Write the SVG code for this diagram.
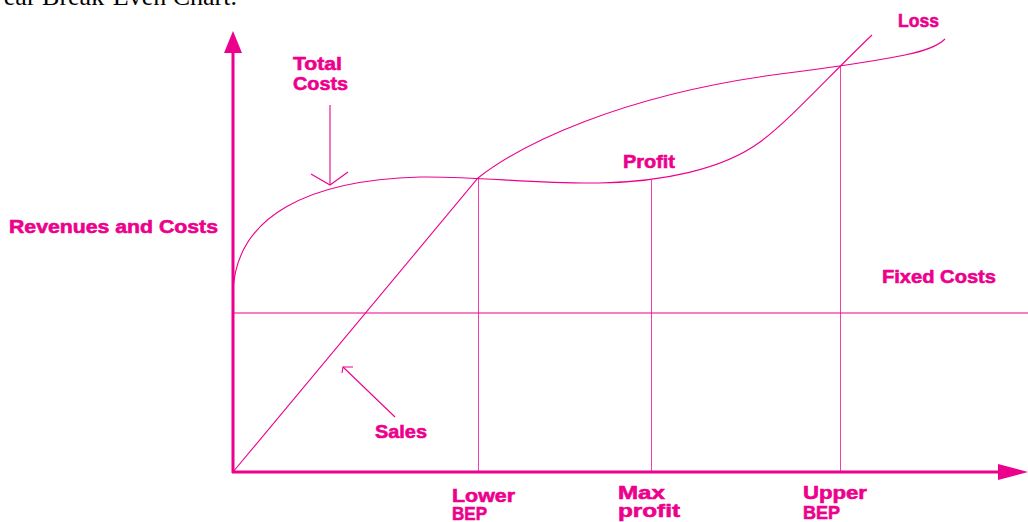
<svg xmlns="http://www.w3.org/2000/svg" width="1028" height="522" viewBox="0 0 1028 522">
<style>
.lbl{font-family:"Liberation Sans",Arial,sans-serif;font-weight:bold;font-size:19px;fill:#EC008C;stroke:#EC008C;stroke-width:0.6;}
.thin{fill:none;stroke:#EC008C;stroke-width:1.1;}
.guide{fill:none;stroke:#EC008C;stroke-width:1;stroke-opacity:0.75;}
.axis{fill:none;stroke:#EC008C;stroke-width:3;}
.head{fill:#EC008C;}
</style>
<rect width="1028" height="522" fill="#ffffff"/>
<text x="237" y="5" text-anchor="end" font-family="Liberation Serif,serif" font-size="26" fill="#000">ear Break-Even Chart.</text>

<g id="axes">
  <line class="axis" x1="233" y1="473" x2="233" y2="50"/>
  <polygon class="head" points="233,31 224,53 242,53"/>
  <line class="axis" x1="232" y1="472" x2="1000" y2="472"/>
  <polygon class="head" points="1028,472 998,464 998,480"/>
</g>

<g id="connectors">
  <g id="fixed-costs-line"><line class="thin" x1="233" y1="313" x2="1028" y2="313"/></g>
  <g id="total-costs-curve"><path class="thin" d="M233,292 C236,215 310,180 420,177 C480,176 530,184 600,183 C660,182 722,170 760,142 C790,120 830,75 872,35"/></g>
  <g id="sales-curve"><path class="thin" d="M233,472 L478,178 C520,145 620,95 780,74 C820,69 870,62 905,55 C925,51 938,46 945,39"/></g>
  <g id="guides">
    <line class="guide" x1="478.5" y1="178" x2="478.5" y2="472"/>
    <line class="guide" x1="651.5" y1="180" x2="651.5" y2="472"/>
    <line class="guide" x1="840.5" y1="66" x2="840.5" y2="472"/>
  </g>
  <g id="total-costs-pointer">
    <line class="thin" x1="330" y1="105" x2="330" y2="185"/>
    <polyline class="thin" points="311,174 330,185 348,172"/>
  </g>
  <g id="sales-pointer">
    <line class="thin" x1="395" y1="417" x2="343" y2="367"/>
    <polyline class="thin" points="353,367 343,367 342,373"/>
  </g>
</g>

<g id="label-total-costs">
  <text class="lbl" x="293" y="70" textLength="49" lengthAdjust="spacingAndGlyphs">Total</text>
  <text class="lbl" x="293" y="90" textLength="55" lengthAdjust="spacingAndGlyphs">Costs</text>
</g>
<g id="label-revenues"><text class="lbl" x="9" y="233" textLength="209" lengthAdjust="spacingAndGlyphs">Revenues and Costs</text></g>
<g id="label-loss"><text class="lbl" x="898" y="27" textLength="41" lengthAdjust="spacingAndGlyphs">Loss</text></g>
<g id="label-profit"><text class="lbl" x="623" y="168" textLength="52" lengthAdjust="spacingAndGlyphs">Profit</text></g>
<g id="label-fixed-costs"><text class="lbl" x="882" y="283" textLength="114" lengthAdjust="spacingAndGlyphs">Fixed Costs</text></g>
<g id="label-sales"><text class="lbl" x="375" y="438" textLength="52" lengthAdjust="spacingAndGlyphs">Sales</text></g>
<g id="label-lower-bep">
  <text class="lbl" x="452" y="502" textLength="63" lengthAdjust="spacingAndGlyphs">Lower</text>
  <text class="lbl" x="452" y="520" textLength="35" lengthAdjust="spacingAndGlyphs">BEP</text>
</g>
<g id="label-max-profit">
  <text class="lbl" x="618" y="499" textLength="47" lengthAdjust="spacingAndGlyphs">Max</text>
  <text class="lbl" x="618" y="517" textLength="62" lengthAdjust="spacingAndGlyphs">profit</text>
</g>
<g id="label-upper-bep">
  <text class="lbl" x="803" y="499" textLength="64" lengthAdjust="spacingAndGlyphs">Upper</text>
  <text class="lbl" x="803" y="519" textLength="37" lengthAdjust="spacingAndGlyphs">BEP</text>
</g>
</svg>
